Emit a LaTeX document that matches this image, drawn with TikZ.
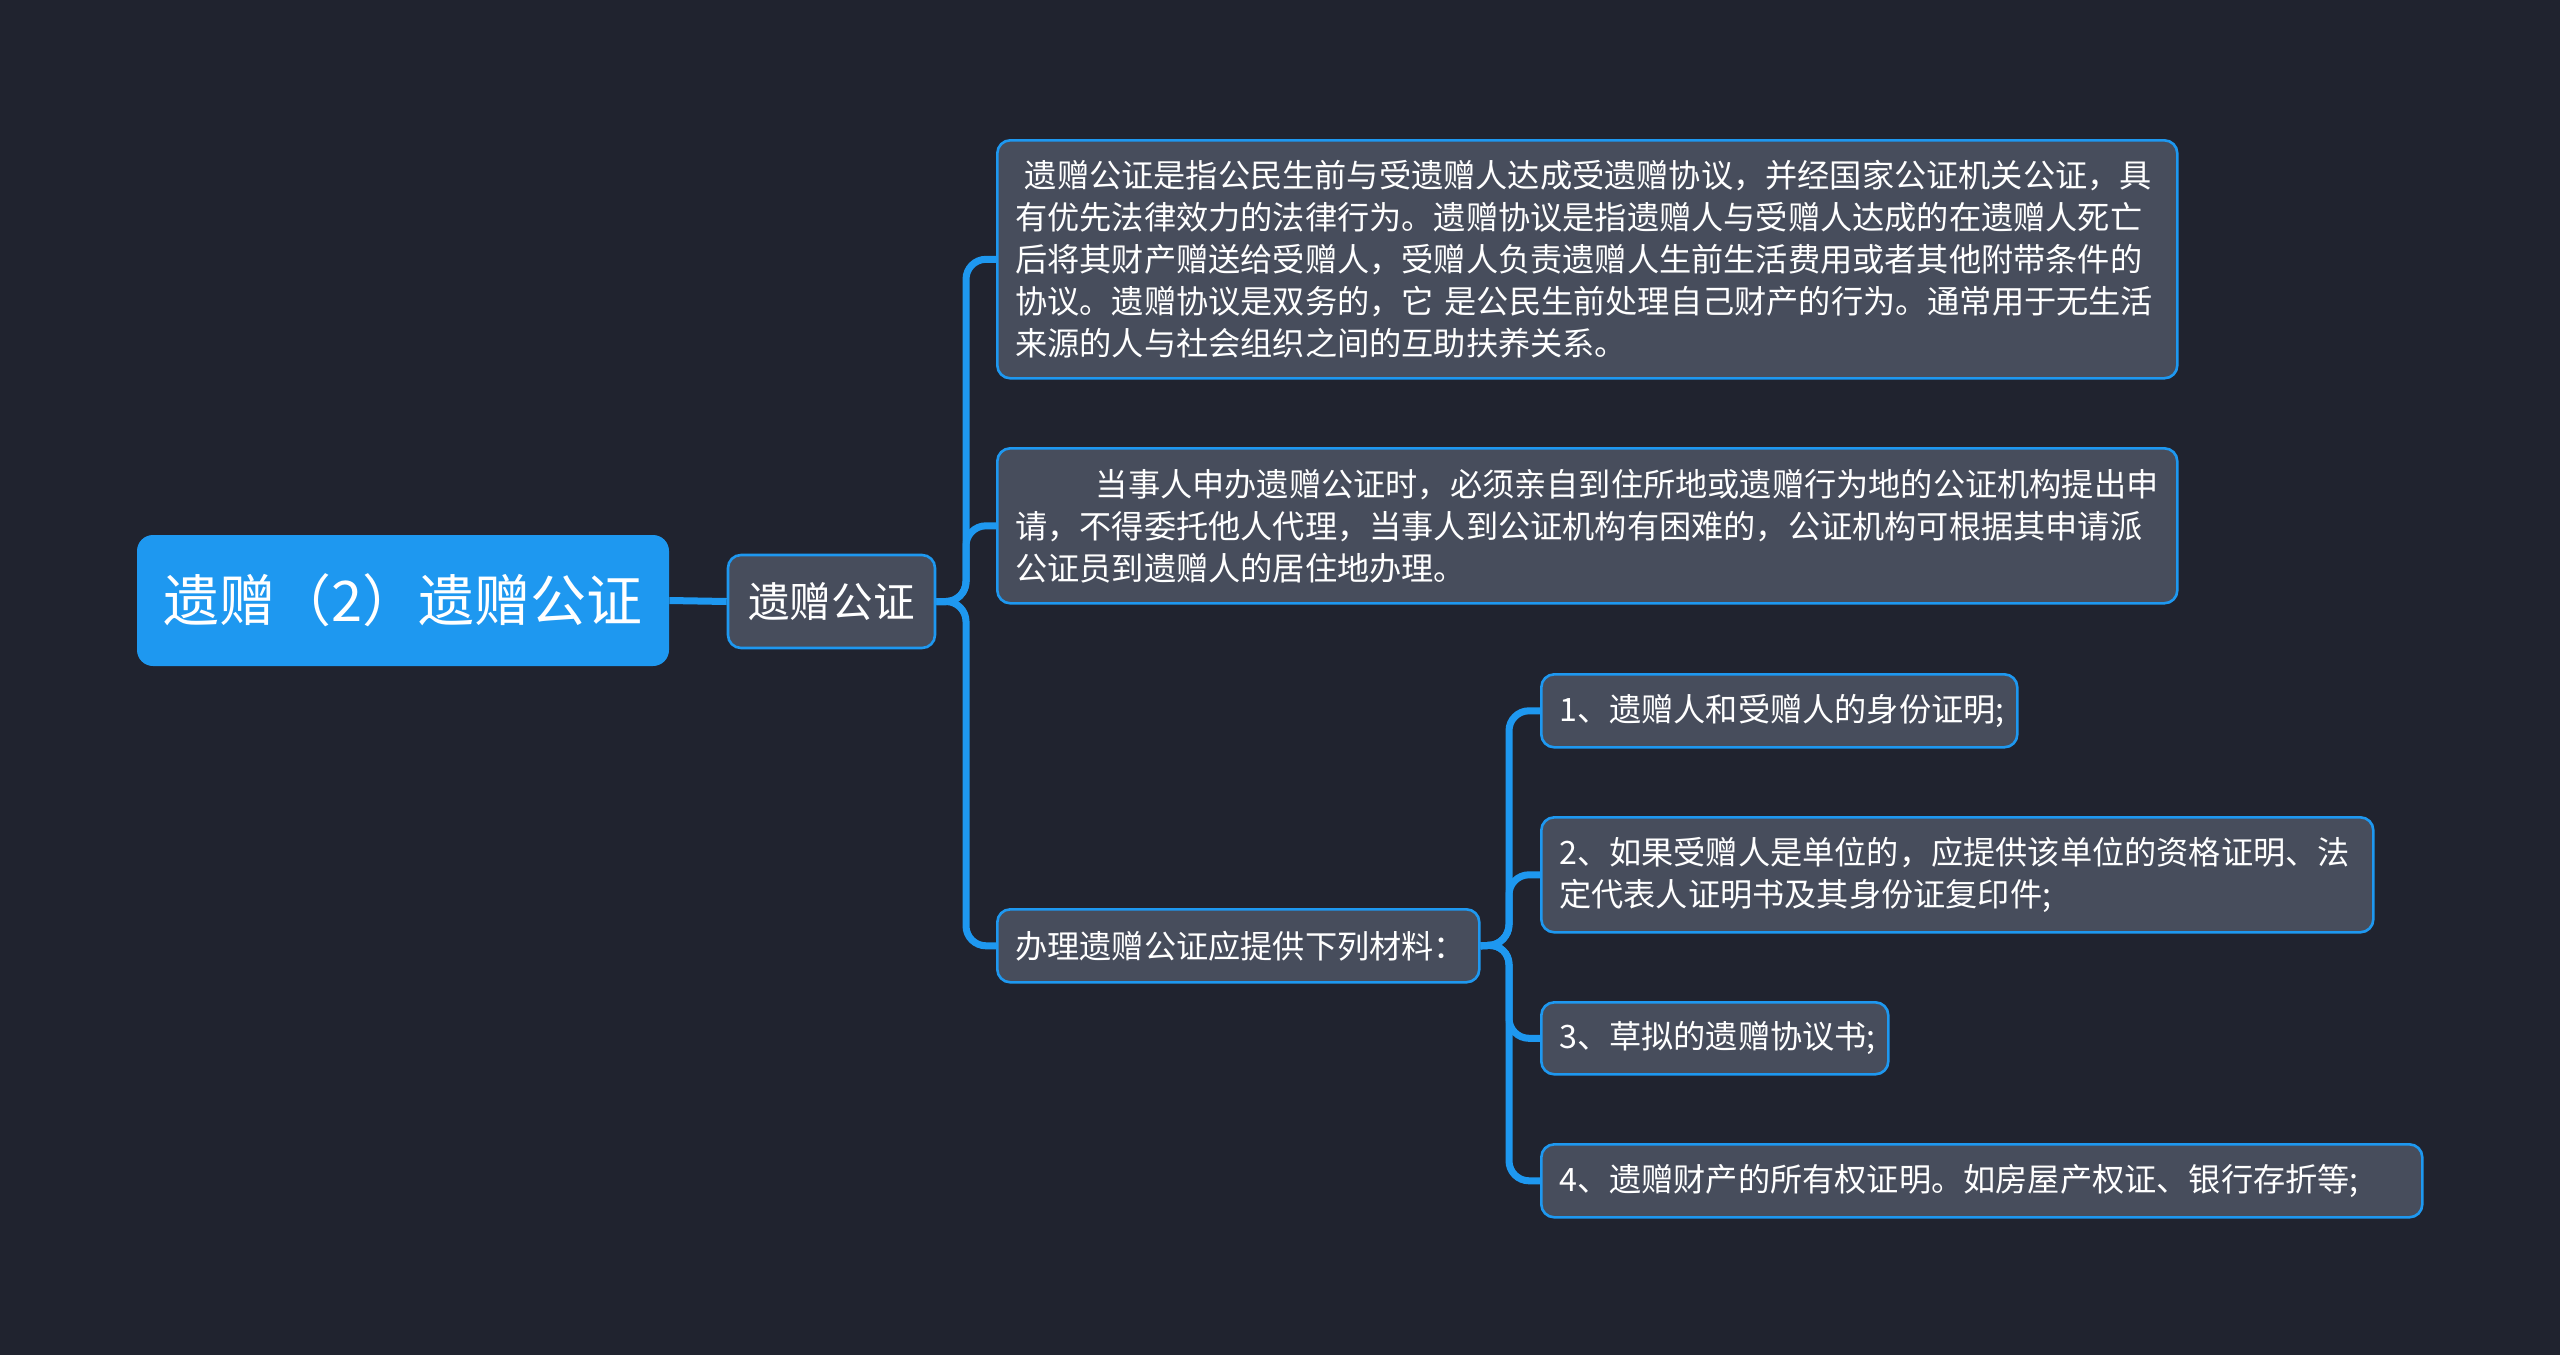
\documentclass[tikz,border=0pt]{standalone}
\usepackage{fontspec}
\usetikzlibrary{backgrounds}
\newfontfamily\cjk{Noto Sans CJK SC}
\definecolor{bgdark}{RGB}{32,35,47}
\definecolor{linkblue}{RGB}{30,152,240}
\definecolor{boxgray}{RGB}{71,77,92}
\tikzset{
  topic/.style={fill=linkblue, rounded corners=8pt, text=white, inner sep=0pt, align=center, font=\cjk\fontsize{28}{33}\selectfont},
  box/.style={draw=linkblue, line width=1.3pt, fill=boxgray, rounded corners=6.5pt, text=white, inner xsep=9pt, inner ysep=0pt, align=left, anchor=north west, font=\cjk\fontsize{16.1}{21}\selectfont},
  link/.style={draw=linkblue, line width=3.5pt, rounded corners=10pt}
}
\begin{document}
\begin{tikzpicture}[x=0.5pt,y=0.5pt,yscale=-1,xscale=1]
				%set diagram size: 2560 x 1355
				
				% Branch Points
				\coordinate (c1) at (966,601.5);
				\coordinate (c2) at (1509,944.5);
				
				% Root Node
				\node (root) at (403,600.5) [topic, minimum width=266pt, minimum height=65.5pt] {遗赠（2）遗赠公证};
				% Sub Node
				\node (gzh) at (831.5,601.5) [box, anchor=center, align=center, font=\cjk\fontsize{20.8}{25}\selectfont, minimum width=103.5pt, minimum height=46.5pt, inner xsep=0pt] {遗赠公证};
				
				% Text Node
				\node (dfn) at (996,139) [box, minimum width=590pt, text width=572pt, minimum height=119pt] {\hspace*{0.3em}遗赠公证是指公民生前与受遗赠人达成受遗赠协议，并经国家公证机关公证，具\\有优先法律效力的法律行为。遗赠协议是指遗赠人与受赠人达成的在遗赠人死亡\\后将其财产赠送给受赠人，受赠人负责遗赠人生前生活费用或者其他附带条件的\\协议。遗赠协议是双务的，它 是公民生前处理自己财产的行为。通常用于无生活\\来源的人与社会组织之间的互助扶养关系。};
				% Text Node
				\node (proc) at (996,447) [box, minimum width=590pt, text width=572pt, minimum height=77.5pt] {\hspace*{2.5em}当事人申办遗赠公证时，必须亲自到住所地或遗赠行为地的公证机构提出申\\请，不得委托他人代理，当事人到公证机构有困难的，公证机构可根据其申请派\\公证员到遗赠人的居住地办理。};
				% Text Node
				\node (mat) at (996,908) [box, minimum width=241pt, text width=223pt, minimum height=36.5pt] {办理遗赠公证应提供下列材料：};
				
				% List Nodes
				\node (m1) at (1540,673) [box, minimum width=238pt, text width=220pt, minimum height=36.5pt] {1、遗赠人和受赠人的身份证明;};
				\node (m2) at (1540,816) [box, minimum width=416pt, text width=398pt, minimum height=57.5pt] {2、如果受赠人是单位的，应提供该单位的资格证明、法\\定代表人证明书及其身份证复印件;};
				\node (m3) at (1540,1001) [box, minimum width=173.5pt, text width=155.5pt, minimum height=36pt] {3、草拟的遗赠协议书;};
				\node (m4) at (1540,1143) [box, minimum width=440.5pt, text width=422.5pt, minimum height=36.5pt] {4、遗赠财产的所有权证明。如房屋产权证、银行存折等;};
				
				% Connectors (behind the boxes)
				\begin{pgfonlayer}{background}
				\path [fill=bgdark] (0,0) rectangle (2560,1355);
				\draw [link] (root.east) -- (gzh.west);
				\foreach \t in {dfn,proc,mat}
				  \draw [link] (gzh.east) -- (c1) |- (\t.west);
				\foreach \t in {m1,m2,m3,m4}
				  \draw [link] (mat.east) -- (c2) |- (\t.west);
				\end{pgfonlayer}
				
\end{tikzpicture}
\end{document}
